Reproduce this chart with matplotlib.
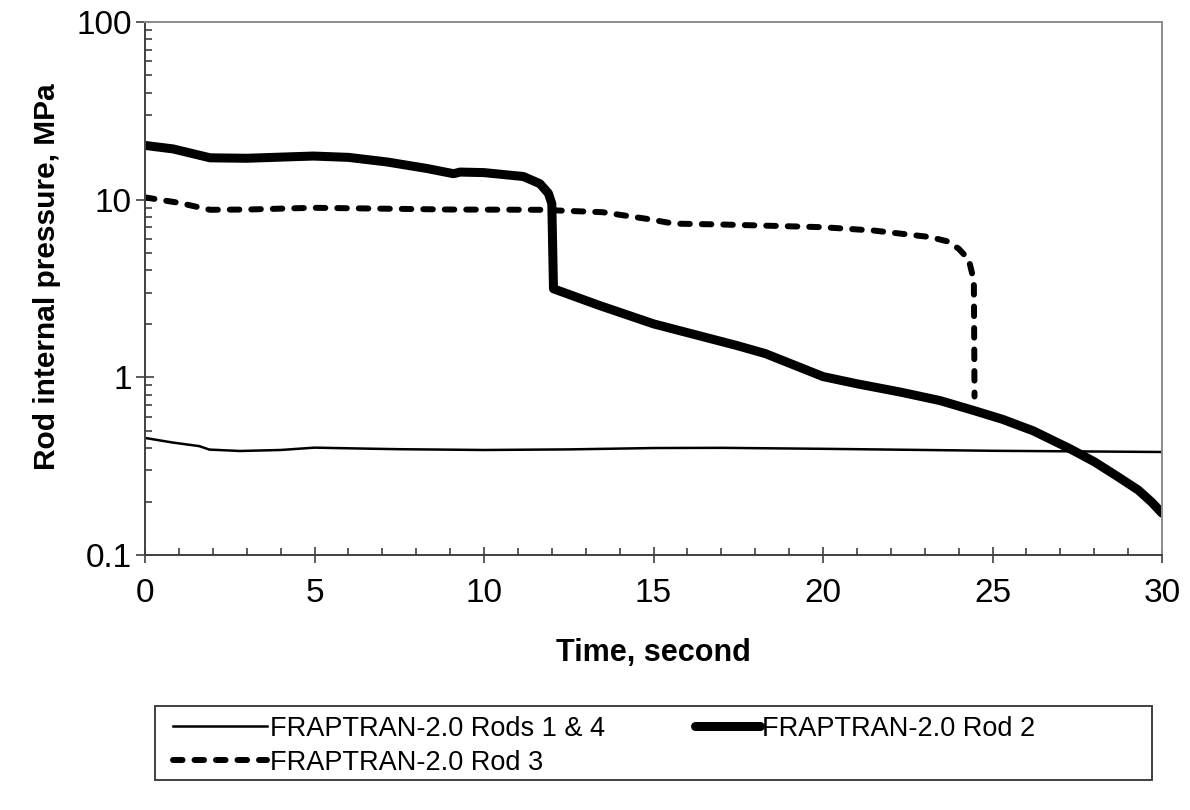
import matplotlib
matplotlib.use("Agg")
import matplotlib.pyplot as plt
from matplotlib.ticker import FixedLocator, LogLocator, NullFormatter, FixedFormatter, MultipleLocator
from matplotlib.patches import Rectangle
from matplotlib.legend_handler import HandlerLine2D

plt.rcParams['font.family'] = ['Liberation Sans', 'DejaVu Sans']

# Rods 1 & 4 (thin)
t_rod14 = [0.0, 0.8, 1.6, 1.9, 2.8, 4.0, 5.0, 6.5, 7.5, 10.0, 12.5, 15.0, 17.0, 20.0, 22.5, 25.0, 27.5, 30.0]
p_rod14 = [0.456, 0.43, 0.41, 0.392, 0.385, 0.39, 0.402, 0.397, 0.394, 0.390, 0.393, 0.400, 0.401, 0.396, 0.391, 0.386, 0.383, 0.380]

# Rod 2 (thick)
t_rod2 = [0.0, 0.83, 1.92, 3.0, 4.96, 6.0, 7.14, 8.3, 9.1, 9.3, 10.0, 11.16, 11.65, 11.9, 12.0, 12.05,
          13.4, 15.0, 17.46, 18.3, 20.0, 21.0, 22.27, 23.45, 24.43, 25.3, 26.2, 27.3, 28.0, 28.67, 29.3, 29.7, 30.0]
p_rod2 = [20.2, 19.3, 17.2, 17.1, 17.6, 17.3, 16.3, 15.0, 14.0, 14.3, 14.2, 13.5, 12.3, 10.85, 9.5, 3.15,
          2.54, 2.0, 1.51, 1.36, 1.01, 0.92, 0.827, 0.74, 0.652, 0.58, 0.50, 0.395, 0.335, 0.278, 0.232, 0.198, 0.172]

# Rod 3 (dashed)
t_rod3 = [0.0, 1.0, 1.92, 3.0, 4.96, 7.0, 9.0, 11.65, 13.5, 14.8, 15.6, 17.0, 20.0, 21.5, 23.16, 23.66, 24.0, 24.3, 24.45, 24.47]
p_rod3 = [10.3, 9.6, 8.77, 8.8, 9.0, 8.9, 8.8, 8.77, 8.5, 7.8, 7.33, 7.25, 7.0, 6.7, 6.16, 5.83, 5.3, 4.6, 3.5, 0.78]

x_ticks = [0, 5, 10, 15, 20, 25, 30]
y_ticks = [0.1, 1, 10, 100]
y_ticklabels = ["0.1", "1", "10", "100"]


class ShortHandler(HandlerLine2D):
    def __init__(self, frac=0.7, **kw):
        super().__init__(**kw)
        self.frac = frac

    def create_artists(self, legend, orig_handle, xdescent, ydescent, width, height, fontsize, trans):
        w2 = width * self.frac
        return super().create_artists(legend, orig_handle, xdescent - (width - w2), ydescent,
                                      w2, height, fontsize, trans)


fig = plt.figure(figsize=(11.9, 8.1), dpi=100)
ax = fig.add_axes([145/1190, 1-555/810, (1162-145)/1190, (555-22)/810])

l1, = ax.plot(t_rod14, p_rod14, color='black', lw=1.8, label='FRAPTRAN-2.0 Rods 1 & 4')
l2, = ax.plot(t_rod2, p_rod2, color='black', lw=6.5, solid_capstyle='round', solid_joinstyle='round',
              label='FRAPTRAN-2.0 Rod 2')
l3, = ax.plot(t_rod3, p_rod3, color='black', lw=4.3, linestyle=(0, (1.6, 2.0)), dash_capstyle='round',
              label='FRAPTRAN-2.0 Rod 3')

ax.set_yscale('log')
ax.set_xlim(0, 30)
ax.set_ylim(0.1, 100)
ax.xaxis.set_major_locator(FixedLocator(x_ticks))
ax.xaxis.set_minor_locator(MultipleLocator(1))
ax.yaxis.set_major_locator(FixedLocator(y_ticks))
ax.yaxis.set_major_formatter(FixedFormatter(y_ticklabels))
ax.yaxis.set_minor_locator(LogLocator(base=10, subs=range(2, 10)))
ax.yaxis.set_minor_formatter(NullFormatter())

ax.tick_params(axis='x', which='major', direction='inout', length=11.5, width=1.2, colors='#404040',
               labelsize=24, labelcolor='black', pad=11)
ax.tick_params(axis='x', which='minor', direction='in', length=5, width=1.2, colors='#404040')
ax.tick_params(axis='y', which='major', direction='inout', length=13, width=1.2, colors='#404040',
               labelsize=24, labelcolor='black', pad=3)
ax.tick_params(axis='y', which='minor', direction='in', length=5, width=1.2, colors='#404040')

for s in ['left', 'bottom']:
    ax.spines[s].set_color('#404040')
    ax.spines[s].set_linewidth(1.4)
for s in ['top', 'right']:
    ax.spines[s].set_color('#8c8c8c')
    ax.spines[s].set_linewidth(1.4)

ax.set_xlabel('Time, second', fontsize=22, fontweight='bold', labelpad=21)
ax.set_ylabel('Rod internal pressure, MPa', fontsize=21.5, fontweight='bold')
ax.yaxis.set_label_coords(-0.083, 0.523)

# legend box
fig.patches.append(Rectangle((155/1190, 1-780/810), (1152-155)/1190, (780-706)/810,
                             transform=fig.transFigure, fill=False, edgecolor='#404040', lw=1.4))
leg = fig.legend(handles=[l1, l3, l2], loc='upper left', bbox_to_anchor=(151/1190, 1-694/810),
                 ncol=2, frameon=False, fontsize=19.5, handlelength=3.5, handletextpad=0.1,
                 columnspacing=2.2, labelspacing=0.3, borderpad=0.3,
                 handler_map={l2: ShortHandler(frac=0.68)})

fig.savefig('out.png', dpi=100)
